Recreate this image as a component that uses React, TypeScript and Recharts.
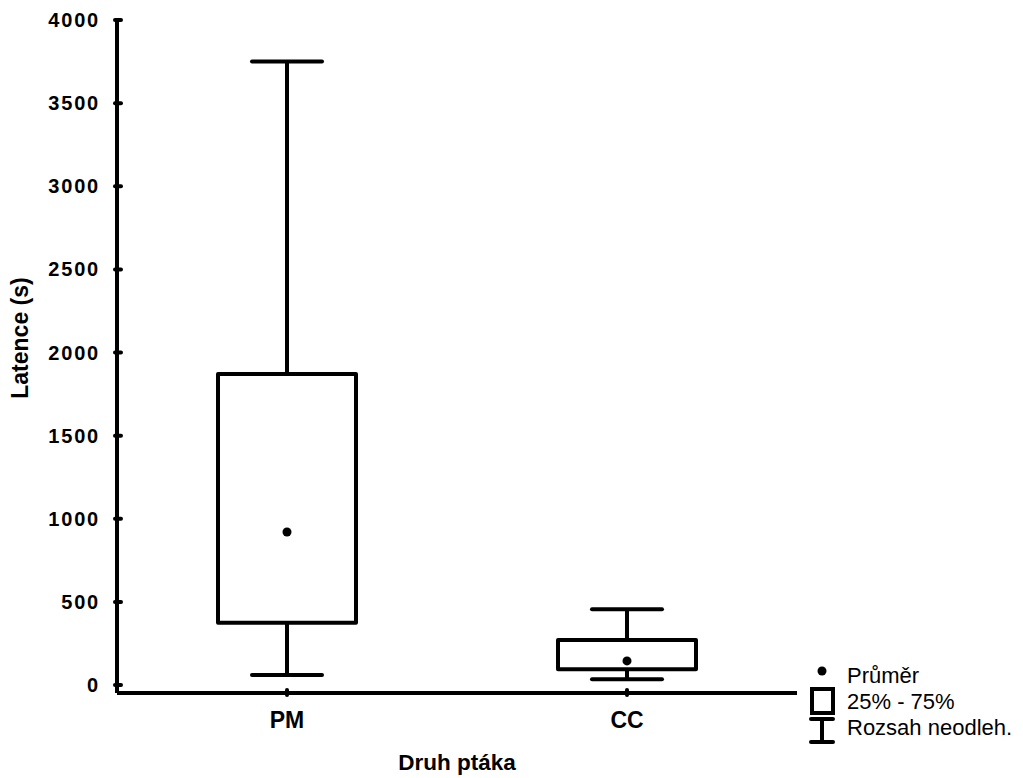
import { ComposedChart, Bar, Line, XAxis, YAxis, Label } from 'recharts';

const categories = ['PM', 'CC'];
const minValues = [60, 35];
const q1Values = [375, 95];
const q3Values = [1870, 270];
const maxValues = [3750, 455];
const meanValues = [920, 145];
const yTicks = [0, 500, 1000, 1500, 2000, 2500, 3000, 3500, 4000];
const legendLabels = ['Průměr', '25% - 75%', 'Rozsah neodleh.'];

const data = categories.map((name, i) => ({
  name,
  min: minValues[i],
  q1: q1Values[i],
  q3: q3Values[i],
  max: maxValues[i],
  mean: meanValues[i],
}));

const FONT = '"Liberation Sans", Arial, Helvetica, sans-serif';
const STROKE = 4;

function BoxShape(props: any) {
  const { x, y, width, height, payload } = props;
  const top = Math.min(y, y + height);
  const h = Math.abs(height);
  const ppu = h / (payload.q3 - payload.q1);
  const cx = x + width / 2;
  const capHalf = 35;
  const maxY = top - (payload.max - payload.q3) * ppu;
  const minY = top + h + (payload.q1 - payload.min) * ppu;
  return (
    <g>
      <line x1={cx} x2={cx} y1={maxY} y2={top} stroke="#000" strokeWidth={STROKE} />
      <line x1={cx} x2={cx} y1={top + h} y2={minY} stroke="#000" strokeWidth={STROKE} />
      <line x1={cx - capHalf} x2={cx + capHalf} y1={maxY} y2={maxY} stroke="#000" strokeWidth={STROKE} strokeLinecap="round" />
      <line x1={cx - capHalf} x2={cx + capHalf} y1={minY} y2={minY} stroke="#000" strokeWidth={STROKE} strokeLinecap="round" />
      <rect x={x} y={top} width={width} height={h} fill="#fff" stroke="#000" strokeWidth={STROKE} strokeLinejoin="round" />
    </g>
  );
}

function YTick(props: any) {
  const { x, y, payload } = props;
  return (
    <g>
      <line x1={x} x2={x + 6} y1={y} y2={y} stroke="#000" strokeWidth={STROKE} strokeLinecap="round" />
      <text x={x - 15} y={y} textAnchor="end" dominantBaseline="central" fontFamily={FONT} fontWeight="bold" fontSize={20} letterSpacing={1.8} fill="#000">
        {payload.value}
      </text>
    </g>
  );
}

function XTick(props: any) {
  const { x, y, payload } = props;
  return (
    <g>
      <line x1={x} x2={x} y1={y - 5} y2={y} stroke="#000" strokeWidth={STROKE} strokeLinecap="round" />
      <text x={x} y={y + 33} textAnchor="middle" fontFamily={FONT} fontWeight="bold" fontSize={23} fill="#000">
        {payload.value}
      </text>
    </g>
  );
}

function Legend() {
  return (
    <svg width={1023} height={778} style={{ position: 'absolute', left: 0, top: 0, pointerEvents: 'none' }}>
      <circle cx={822} cy={671} r={4.5} fill="#000" />
      <rect x={812} y={689} width={21} height={24} fill="#fff" stroke="#000" strokeWidth={STROKE} />
      <line x1={822} x2={822} y1={719} y2={742} stroke="#000" strokeWidth={STROKE} />
      <line x1={811} x2={833} y1={719} y2={719} stroke="#000" strokeWidth={STROKE} strokeLinecap="round" />
      <line x1={811} x2={833} y1={742} y2={742} stroke="#000" strokeWidth={STROKE} strokeLinecap="round" />
      {legendLabels.map((label, i) => (
        <text key={label} x={847} y={683 + i * 26} fontFamily={FONT} fontSize={22} fill="#000">
          {label}
        </text>
      ))}
    </svg>
  );
}

export default function App() {
  return (
    <div style={{ position: 'absolute', left: 0, top: 0, width: 1023, height: 778, background: '#fff' }}>
      <ComposedChart width={1023} height={778} data={data} margin={{ top: 20, right: 226, bottom: 0, left: 0 }}>
        <XAxis
          dataKey="name"
          height={85}
          tickSize={0}
          tickLine={false}
          axisLine={{ stroke: '#000', strokeWidth: STROKE }}
          tick={<XTick />}
        >
          <Label
            content={() => (
              <text x={457} y={770} textAnchor="middle" fontFamily={FONT} fontWeight="bold" fontSize={22.5} fill="#000">
                Druh ptáka
              </text>
            )}
          />
        </XAxis>
        <YAxis
          width={117}
          domain={[0, 4000]}
          ticks={yTicks}
          interval={0}
          padding={{ top: 0, bottom: 8 }}
          tickSize={0}
          tickLine={false}
          axisLine={{ stroke: '#000', strokeWidth: STROKE }}
          tick={<YTick />}
        >
          <Label
            content={() => (
              <text x={28} y={338} textAnchor="middle" transform="rotate(-90 28 338)" fontFamily={FONT} fontWeight="bold" fontSize={23} fill="#000">
                Latence (s)
              </text>
            )}
          />
        </YAxis>
        <Bar dataKey={(d: any) => [d.q1, d.q3]} barSize={138} shape={<BoxShape />} isAnimationActive={false} />
        <Line
          dataKey="mean"
          stroke="none"
          dot={{ r: 4.5, fill: '#000', stroke: 'none' }}
          activeDot={false}
          isAnimationActive={false}
        />
      </ComposedChart>
      <Legend />
    </div>
  );
}
